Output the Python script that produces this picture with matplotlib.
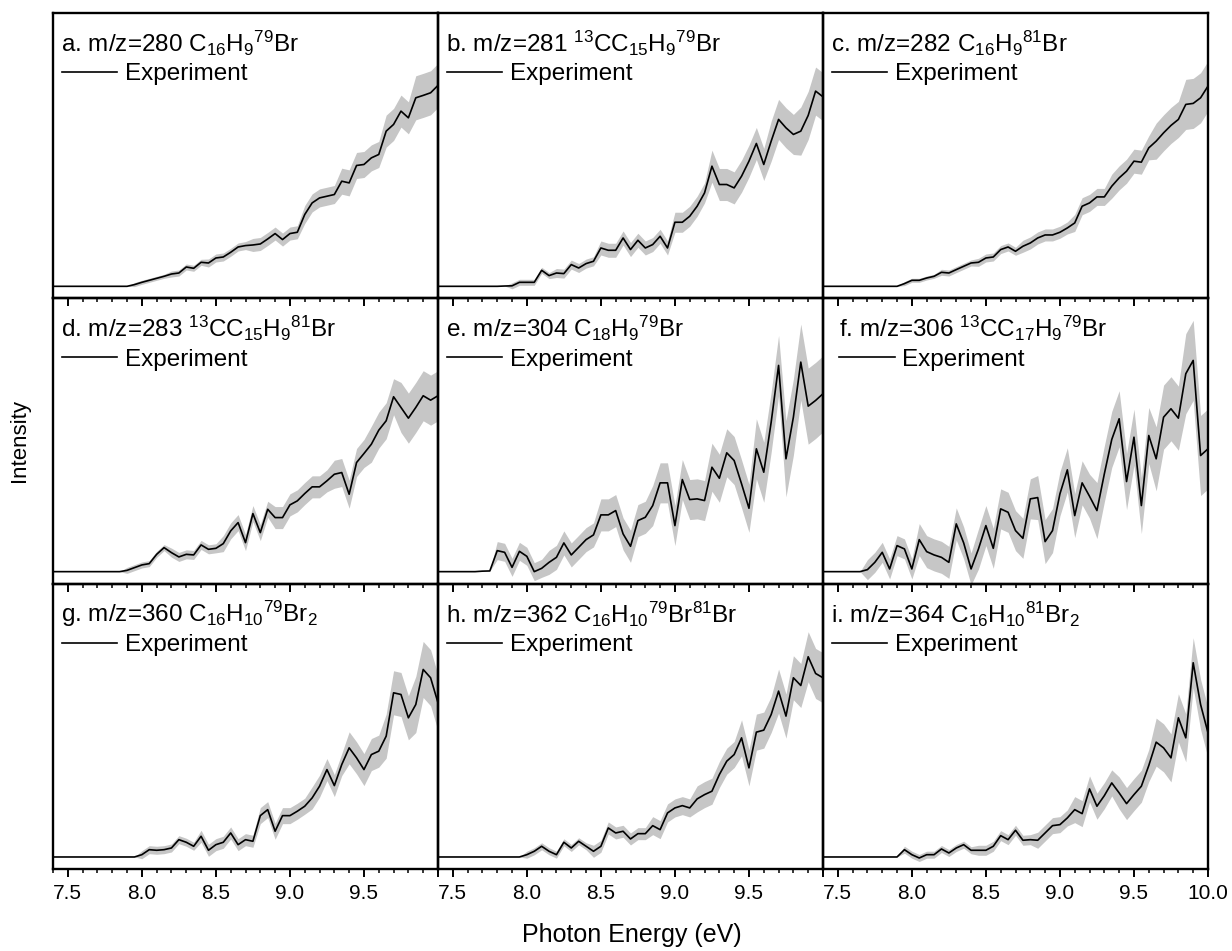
import numpy as np
import matplotlib
matplotlib.use("Agg")
import matplotlib.pyplot as plt
from matplotlib.lines import Line2D
from matplotlib.ticker import MultipleLocator

plt.rcParams['font.family'] = ['Liberation Sans', 'DejaVu Sans']
plt.rcParams['mathtext.fontset'] = 'custom'
plt.rcParams['mathtext.rm'] = 'Liberation Sans'
plt.rcParams['mathtext.it'] = 'Liberation Sans'
plt.rcParams['mathtext.default'] = 'rm'

# Photon energy grid (eV), 0.05 eV steps from 7.40 to 10.00
energy = [round(7.40 + 0.05 * k, 2) for k in range(53)]

titles = [
    r"a. m/z=280 C$_{16}$H$_9$$^{79}$Br",
    r"b. m/z=281 $^{13}$CC$_{15}$H$_9$$^{79}$Br",
    r"c. m/z=282 C$_{16}$H$_9$$^{81}$Br",
    r"d. m/z=283 $^{13}$CC$_{15}$H$_9$$^{81}$Br",
    r"e. m/z=304 C$_{18}$H$_9$$^{79}$Br",
    r"f. m/z=306 $^{13}$CC$_{17}$H$_9$$^{79}$Br",
    r"g. m/z=360 C$_{16}$H$_{10}$$^{79}$Br$_2$",
    r"h. m/z=362 C$_{16}$H$_{10}$$^{79}$Br$^{81}$Br",
    r"i. m/z=364 C$_{16}$H$_{10}$$^{81}$Br$_2$",
]

# Intensities (arbitrary units)
int_a = [0]*11 + [1.7, 4, 6, 8, 10, 12.3, 13.3, 19.3, 18, 24, 23.3, 28.3, 29.3, 34, 39.3, 40.7, 41.3,
                  42.3, 47.3, 52.7, 46.7, 52.7, 54, 71.7, 83.3, 88.3, 90, 91.7, 105, 103.3, 120.7, 121.7,
                  128.3, 131.7, 155, 161.7, 175, 168.3, 188.3, 190.7, 193.3, 200.7]
int_b = [0]*9 + [0.3, 0.5, 4, 4, 4, 16, 10.7, 13.3, 12.7, 21.7, 18.3, 22.7, 25, 38.3, 36, 36, 48.3, 36.7,
                 46, 38.3, 41.7, 50, 38.3, 64, 64, 70, 80, 93.3, 120, 101.7, 101.7, 98.3, 110, 125, 142.7,
                 121.7, 145, 166.7, 158.3, 151.7, 155, 170.7, 195, 189.3]
int_c = [0]*11 + [2.7, 6, 6, 8.3, 10, 14, 13.3, 16.7, 20, 23.3, 24, 28.3, 29.3, 36.7, 39.3, 35, 40, 43.3,
                  48.3, 51.3, 51.3, 54, 58.3, 63.3, 80, 83.3, 89.3, 89.3, 100, 108.3, 115, 125, 124, 138.3,
                  145, 153.3, 160.7, 166.7, 181.7, 182.7, 188.3, 200]
int_d = [0]*10 + [1.3, 4, 6.7, 8, 17.3, 24, 19, 14.7, 17.3, 16.7, 26.7, 22.3, 23.3, 28, 40.7, 49, 29, 58,
                  39, 62.3, 54, 54, 66.7, 70.7, 78, 84.7, 84.7, 90.7, 97.3, 99, 77.3, 109, 118, 127.3,
                  141.3, 150.7, 174.7, 164, 153.3, 164, 175.7, 171.3, 175.7]
int_e = [0]*6 + [0.5, 0.7, 21, 19.3, 4.3, 20.3, 15.3, 0, 3.3, 9.3, 14.3, 28.7, 16.7, 24.3, 32, 36.7, 56.7,
                 56.7, 61, 37.7, 25.3, 51, 54.3, 66, 88.7, 88.7, 46, 92, 72, 72.7, 71, 104.3, 93.3, 118.7,
                 111, 87.7, 63.3, 122.7, 99.3, 149.3, 206, 112.7, 154.3, 209.3, 165.3, 171, 177.7]
int_f = [0]*6 + [2, 9.3, 19.3, 2.7, 26, 22.7, 2.7, 32, 20, 16.7, 14.3, 9.3, 47.7, 28.7, 2.7, 22.7, 46,
                 23.3, 62.7, 59.3, 41, 33.3, 72.7, 74, 30, 41, 77.7, 101.7, 56, 88.7, 75.3, 61, 97.7, 132,
                 152.7, 90, 134.3, 66, 136, 112.7, 154.3, 162.7, 153.3, 197.7, 211, 116, 122.7]
int_g = [0]*12 + [2.3, 7.3, 6.7, 7.3, 9, 17.3, 14.7, 10.7, 20.7, 6.7, 12.3, 14.7, 24, 12.3, 17.3, 15.7,
                  41.3, 47.3, 25.7, 41.3, 41.3, 45.7, 50.7, 59, 70.7, 87.3, 71.3, 92.3, 109, 99, 87.3,
                  102.3, 105.7, 120.7, 164, 162.3, 139, 152.3, 187.3, 179, 154]
int_h = [0]*12 + [2.3, 5.7, 10.7, 5.7, 2.3, 14.7, 9, 15.7, 10.7, 5.7, 10.7, 29, 24, 25.7, 18, 23.3, 23.3,
                  31.3, 27.3, 44, 49, 51.3, 49, 58, 62.3, 65.7, 82.3, 95.7, 102.3, 119, 89, 124.7, 126.7,
                  142.3, 165.7, 140.7, 179, 171.3, 200, 183.3, 179]
int_i = [0]*11 + [7.3, 2.3, -1, 2.3, 2.3, 8, 4, 9, 12.3, 6.7, 6.7, 6.7, 10.7, 21.3, 17.3, 26.7, 16.7,
                  17.3, 16.7, 24, 31.3, 32.3, 39, 47.3, 43.3, 68, 50.7, 61.3, 74, 64, 53.3, 62.3, 70.7,
                  91.3, 114.7, 109, 99, 139, 119, 194, 152.3, 124]

# Uncertainties (half-width of grey band, same units)
err_a = [0]*11 + [2]*5 + [3]*5 + [4]*6 + [6.5]*7 + [9]*5 + [13]*6 + [16]*4 + [22]*4
err_b = [0]*10 + [3]*6 + [4.5]*6 + [7]*10 + [10]*5 + [16]*8 + [20]*4 + [24]*4
err_c = [0]*11 + [2]*5 + [3]*5 + [4]*6 + [6]*7 + [8.5]*5 + [12]*6 + [18]*4 + [25]*4
err_d = [0]*10 + [3]*6 + [4.5]*7 + [8]*7 + [11]*8 + [14]*5 + [18]*4 + [25]*6
err_e = [0]*8 + [9]*7 + [12]*7 + [16]*7 + [20]*8 + [24]*6 + [30]*4 + [38]*6
err_f = [0]*6 + [10]*7 + [16]*8 + [20]*8 + [22]*8 + [28]*8 + [32]*4 + [40]*4
err_g = [0]*12 + [4]*8 + [6]*8 + [8]*7 + [11]*5 + [16]*5 + [22]*4 + [28]*4
err_h = [0]*12 + [3.5]*9 + [6]*8 + [9]*6 + [13]*6 + [18]*5 + [22]*4 + [25]*3
err_i = [0]*11 + [3.5]*10 + [5]*8 + [8]*5 + [13]*6 + [16]*5 + [24]*5 + [25]*3

intensities = [int_a, int_b, int_c, int_d, int_e, int_f, int_g, int_h, int_i]
errors = [err_a, err_b, err_c, err_d, err_e, err_f, err_g, err_h, err_i]

xticks = [7.5, 8.0, 8.5, 9.0, 9.5, 10.0]

W, H = 1232, 951
fig = plt.figure(figsize=(W/100, H/100), dpi=100)
gs = fig.add_gridspec(3, 3, left=53/W, right=1208/W, top=1-13/H, bottom=1-869/H,
                      wspace=0, hspace=0)

x = np.array(energy)
for idx in range(9):
    r, c = divmod(idx, 3)
    ax = fig.add_subplot(gs[r, c])
    ax.set_facecolor('none')
    y = np.array(intensities[idx], dtype=float)
    e = np.array(errors[idx], dtype=float)
    ax.fill_between(x, y - e, y + e, color='#c6c6c6', linewidth=0, zorder=1)
    ax.plot(x, y, color='black', linewidth=1.2, zorder=2)
    ax.set_xlim(7.4, 10.0)
    ax.set_ylim(-12, 273)
    ax.set_yticks([])
    ax.set_xticks(xticks)
    ax.xaxis.set_minor_locator(MultipleLocator(0.1))
    ax.tick_params(axis='x', which='major', direction='out', length=5.5, width=1.4, labelsize=15, pad=5)
    ax.tick_params(axis='x', which='minor', direction='out', length=3, width=1.1)
    if r < 2:
        ax.tick_params(axis='x', labelbottom=False)
    else:
        labels = ['%.1f' % t for t in xticks]
        if c < 2:
            labels[-1] = ''
        ax.set_xticklabels(labels)
    for s in ax.spines.values():
        s.set_linewidth(1.7)
    xoff = 0.02 if idx == 5 else 0.0
    ax.text(0.022 + xoff, 0.893, titles[idx], transform=ax.transAxes, fontsize=17.5,
            ha='left', va='center')
    h = [Line2D([], [], color='black', linewidth=1.2)]
    ax.legend(h, ['Experiment'], loc='center left', bbox_to_anchor=(0.016 + xoff, 0.785),
              frameon=False, fontsize=17.5, handlelength=2.3, handletextpad=0.3,
              borderaxespad=0, borderpad=0.1)

fig.text(20/W, 1 - 441/H, 'Intensity', rotation=90, fontsize=16, ha='center', va='center')
fig.text(632/W, 1 - 935/H, 'Photon Energy (eV)', fontsize=18, ha='center', va='center')

fig.savefig('out.png', dpi=100)
